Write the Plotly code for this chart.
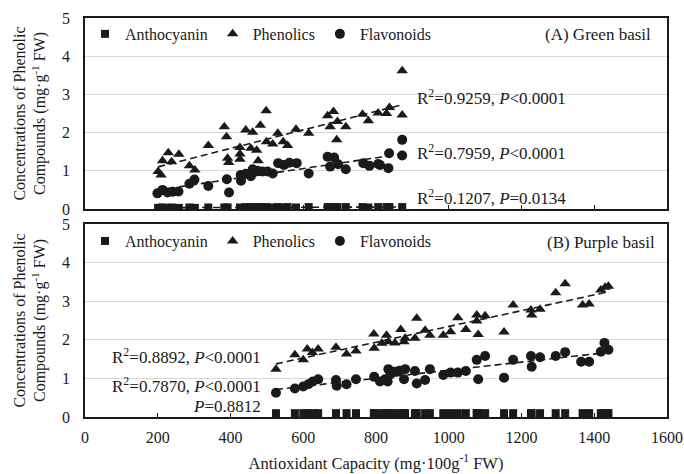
import numpy as np
import plotly.graph_objects as go

# ---------------- Data (A) Green basil ----------------
green_phen_x = [201, 209, 213, 229, 238, 258, 287, 302, 339, 383, 389, 392, 395, 426, 426, 426,
                442, 456, 461, 472, 476, 482, 498, 499, 516, 530, 545, 557, 580, 615, 667, 674,
                683, 692, 694, 717, 763, 779, 806, 829, 837, 872, 872]
green_phen_y = [0.98, 0.89, 1.26, 1.47, 1.24, 1.43, 1.13, 1.02, 1.66, 2.15, 1.89, 1.33, 1.22, 1.61, 1.44, 1.30,
                2.07, 1.59, 2.01, 1.54, 1.26, 2.19, 2.57, 1.76, 1.70, 1.98, 1.76, 1.66, 2.09, 1.98, 2.44, 2.15,
                2.55, 1.81, 2.29, 2.15, 2.48, 2.31, 2.51, 2.50, 2.66, 3.62, 2.46]
green_flav_x = [199, 213, 227, 241, 257, 287, 301, 339, 390, 396, 428, 429, 442, 456, 461, 474, 488,
                502, 516, 531, 547, 562, 582, 615, 667, 674, 685, 696, 717, 765, 782, 806, 811,
                834, 836, 872, 872]
green_flav_y = [0.41, 0.50, 0.43, 0.45, 0.46, 0.66, 0.77, 0.60, 0.78, 0.43, 0.89, 0.74, 0.92, 0.86, 1.04, 1.00, 0.98,
                0.98, 0.93, 1.20, 1.15, 1.21, 1.20, 0.93, 1.37, 1.11, 1.35, 1.17, 1.04, 1.20, 1.13, 1.18, 1.15,
                1.07, 1.46, 1.81, 1.40]
green_anth_x = [201, 209, 213, 229, 238, 258, 287, 302, 339, 383, 389, 392, 426, 442, 456, 461, 472,
                482, 498, 516, 530, 545, 557, 580, 615, 667, 674, 683, 694, 717, 763, 779, 806,
                829, 837, 872]
green_anth_y = [0.03, 0.03, 0.04, 0.03, 0.04, 0.03, 0.04, 0.03, 0.04, 0.04, 0.03, 0.04, 0.04, 0.05, 0.04, 0.05, 0.04,
                0.05, 0.05, 0.04, 0.05, 0.04, 0.05, 0.04, 0.05, 0.05, 0.04, 0.05, 0.05, 0.05, 0.05, 0.04, 0.05,
                0.05, 0.05, 0.05]

# ---------------- Data (B) Purple basil ----------------
purple_phen_x = [525, 577, 600, 611, 625, 641, 690, 719, 745, 794, 795, 816, 829, 834, 852, 868, 877,
                 880, 907, 912, 935, 948, 985, 1005, 1025, 1047, 1077, 1077, 1081, 1100, 1152, 1177,
                 1226, 1228, 1251, 1294, 1320, 1368, 1386, 1418, 1430, 1439]
purple_phen_y = [1.24, 1.61, 1.48, 1.76, 1.67, 1.76, 1.81, 1.63, 1.71, 2.15, 1.78, 1.91, 2.12, 1.95, 1.92, 2.27, 1.95,
                 2.04, 2.04, 2.56, 2.25, 2.12, 2.12, 2.21, 2.57, 2.27, 2.64, 2.49, 2.14, 2.62, 2.20, 2.90,
                 2.77, 2.64, 2.79, 3.22, 3.45, 2.90, 2.93, 3.29, 3.36, 3.39]
purple_flav_x = [525, 577, 600, 614, 626, 641, 690, 692, 719, 745, 795, 811, 825, 832, 834, 840, 852,
                 864, 877, 880, 907, 912, 935, 948, 985, 1005, 1025, 1047, 1077, 1081, 1100, 1152,
                 1177, 1226, 1228, 1251, 1294, 1320, 1364, 1386, 1418, 1428, 1439]
purple_flav_y = [0.63, 0.74, 0.79, 0.85, 0.92, 0.98, 0.96, 0.81, 0.85, 0.98, 1.04, 0.92, 0.98, 0.92, 1.24, 1.11, 1.17,
                 1.20, 0.98, 1.24, 1.19, 0.87, 0.96, 1.24, 1.09, 1.15, 1.15, 1.19, 1.48, 0.98, 1.58, 1.02,
                 1.48, 1.58, 1.30, 1.55, 1.58, 1.68, 1.43, 1.43, 1.69, 1.92, 1.74]
purple_anth_x = purple_phen_x
purple_anth_y = [0.10] * len(purple_phen_x)

x_ticks = [0, 200, 400, 600, 800, 1000, 1200, 1400, 1600]

FONT = "Liberation Serif"
BLACK = "#1a1a1a"

fig = go.Figure()


def add_series(x, y, name, symbol, size, xa, ya, legend, showlegend=True):
    fig.add_trace(go.Scatter(x=x, y=y, mode="markers", name=name, xaxis=xa, yaxis=ya,
                             legend=legend, showlegend=showlegend,
                             marker=dict(symbol=symbol, size=size, color=BLACK,
                                         line=dict(width=0))))


def add_trend(x, y, xa, ya):
    k, b = np.polyfit(x, y, 1)
    xs = np.array([min(x), max(x)])
    fig.add_trace(go.Scatter(x=xs, y=k * xs + b, mode="lines", xaxis=xa, yaxis=ya,
                             showlegend=False, hoverinfo="skip",
                             line=dict(color=BLACK, width=1.6, dash="7px,4px")))


# top panel
add_series(green_anth_x, green_anth_y, "Anthocyanin", "square", 8, "x", "y", "legend")
add_series(green_phen_x, green_phen_y, "Phenolics", "triangle-up", 10, "x", "y", "legend")
add_series(green_flav_x, green_flav_y, "Flavonoids", "circle", 10, "x", "y", "legend")
add_trend(green_phen_x, green_phen_y, "x", "y")
add_trend(green_flav_x, green_flav_y, "x", "y")
add_trend(green_anth_x, green_anth_y, "x", "y")

# bottom panel
add_series(purple_anth_x, purple_anth_y, "Anthocyanin", "square", 8, "x2", "y2", "legend2")
add_series(purple_phen_x, purple_phen_y, "Phenolics", "triangle-up", 10, "x2", "y2", "legend2")
add_series(purple_flav_x, purple_flav_y, "Flavonoids", "circle", 10, "x2", "y2", "legend2")
add_trend(purple_phen_x, purple_phen_y, "x2", "y2")
add_trend(purple_flav_x, purple_flav_y, "x2", "y2")

ytitle = "Concentrations of Phenolic<br>Compounds (mg·g<sup>-1</sup> FW)"

common_x = dict(range=[0, 1600], tickvals=x_ticks, ticks="inside", ticklen=4, tickcolor=BLACK,
                showline=True, linecolor=BLACK, linewidth=1.5, mirror=True, showgrid=False,
                zeroline=False, automargin=False, ticklabelstandoff=5,
                tickfont=dict(size=16, family=FONT, color=BLACK))
common_y = dict(range=[0, 5], dtick=1, ticks="", showline=True, linecolor=BLACK, linewidth=1.5,
                mirror=True, showgrid=True, gridcolor="#d9d9d9", gridwidth=1, zeroline=False,
                automargin=False,
                tickfont=dict(size=16, family=FONT, color=BLACK), ticklabelstandoff=10,
                title=dict(text=ytitle, font=dict(size=16, family=FONT, color=BLACK), standoff=12))

legend_common = dict(orientation="h", xanchor="left", yanchor="middle", bgcolor="rgba(0,0,0,0)",
                     font=dict(size=16, family=FONT, color=BLACK), itemwidth=30, tracegroupgap=0,
                     traceorder="normal")

fig.update_layout(
    width=684, height=474,
    margin=dict(l=85, r=17, t=18, b=57, autoexpand=False),
    paper_bgcolor="white", plot_bgcolor="white",
    font=dict(family=FONT, color=BLACK, size=16),
    xaxis=dict(common_x, domain=[0, 1], anchor="y", showticklabels=False),
    yaxis=dict(common_y, domain=[0.5213, 1], anchor="x"),
    xaxis2=dict(common_x, domain=[0, 1], anchor="y2", matches="x",
                title=dict(text="Antioxidant Capacity (mg·100g<sup>-1</sup> FW)",
                           font=dict(size=16.5, family=FONT, color=BLACK), standoff=12)),
    yaxis2=dict(common_y, domain=[0, 0.4837], anchor="x2"),
    legend=dict(legend_common, x=0, y=0.96),
    legend2=dict(legend_common, x=0, y=0.441),
    showlegend=True,
)

ann_font = dict(size=17, family=FONT, color=BLACK)
annotations = [
    dict(text="(A) Green basil", x=1561, y=4.58, xref="x", yref="y", xanchor="right", yanchor="middle"),
    dict(text="R<sup>2</sup>=0.9259, <i>P</i>&lt;0.0001", x=908, y=2.93, xref="x", yref="y",
         xanchor="left", yanchor="middle"),
    dict(text="R<sup>2</sup>=0.7959, <i>P</i>&lt;0.0001", x=908, y=1.49, xref="x", yref="y",
         xanchor="left", yanchor="middle"),
    dict(text="R<sup>2</sup>=0.1207, <i>P</i>=0.0134", x=908, y=0.31, xref="x", yref="y",
         xanchor="left", yanchor="middle"),
    dict(text="(B) Purple basil", x=1572, y=4.53, xref="x2", yref="y2", xanchor="right", yanchor="middle"),
    dict(text="R<sup>2</sup>=0.8892, <i>P</i>&lt;0.0001", x=490, y=1.58, xref="x2", yref="y2",
         xanchor="right", yanchor="middle"),
    dict(text="R<sup>2</sup>=0.7870, <i>P</i>&lt;0.0001", x=490, y=0.83, xref="x2", yref="y2",
         xanchor="right", yanchor="middle"),
    dict(text="<i>P</i>=0.8812", x=490, y=0.26, xref="x2", yref="y2",
         xanchor="right", yanchor="middle"),
]
for a in annotations:
    a.update(showarrow=False, font=ann_font)
fig.update_layout(annotations=annotations)

# remove the browser's default 8px page margin so the 684x474 figure fills the window exactly
fig.write_html("out.html",
               config={"displayModeBar": False},
               post_script="document.body.style.margin='0';document.body.style.overflow='hidden';")
